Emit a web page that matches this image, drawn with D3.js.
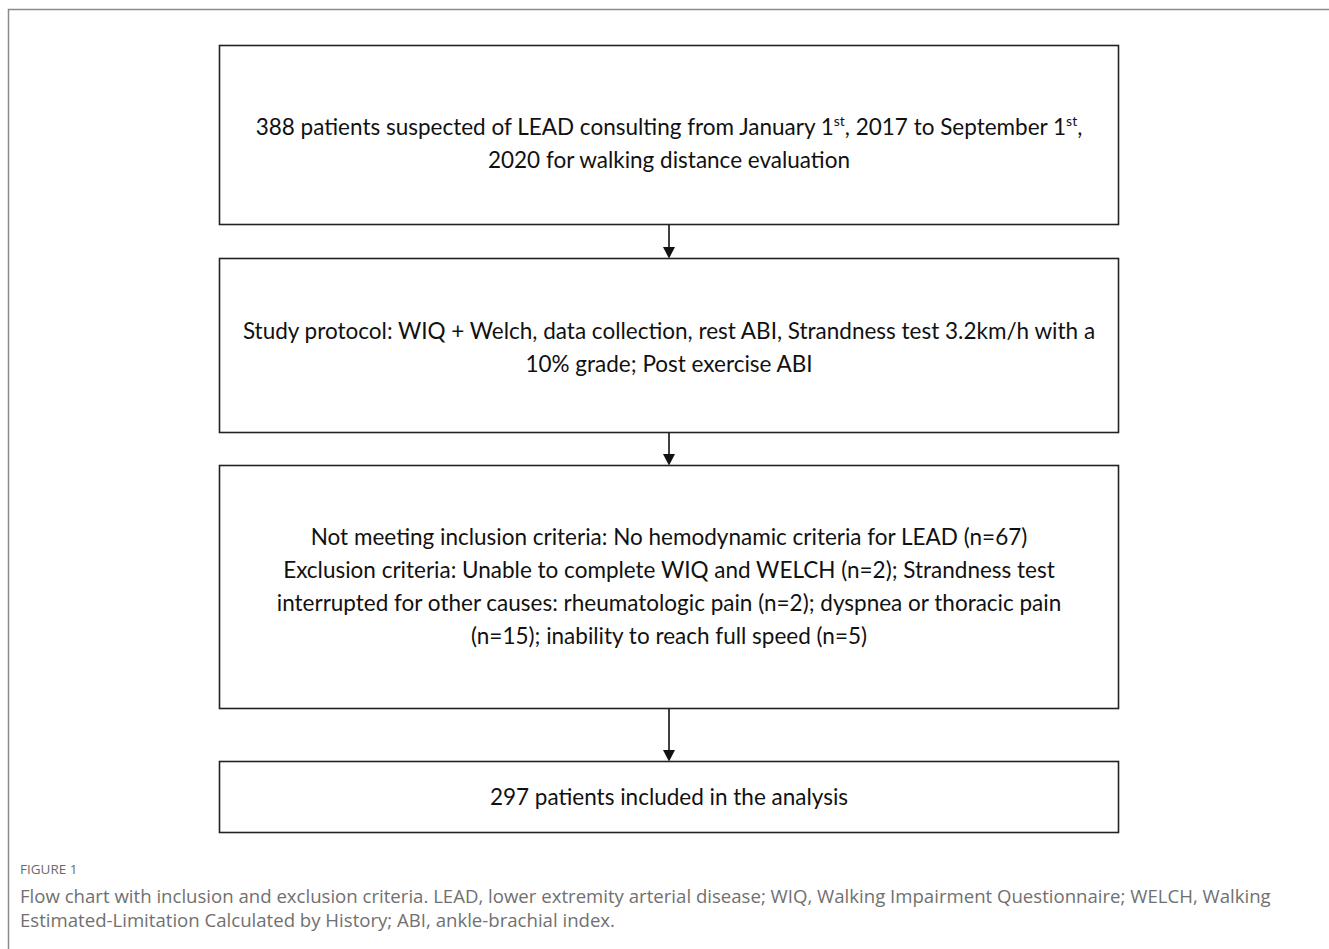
<!DOCTYPE html>
<html>
<head>
<meta charset="utf-8">
<script src="https://cdn.jsdelivr.net/npm/d3@7"></script>
<style>
  body { margin: 0; background: #fff; }
</style>
</head>
<body>
<script>
'use strict';

// flow chart steps: each step is a list of lines, each line a list of [text, isSuperscript]
const stepLines = [
    [
        [["388 patients suspected of LEAD consulting from January 1", false], ["st", true], [", 2017 to September 1", false], ["st", true], [",", false]],
        [["2020 for walking distance evaluation", false]]
    ],
    [
        [["Study protocol: WIQ + Welch, data collection, rest ABI, Strandness test 3.2km/h with a", false]],
        [["10% grade; Post exercise ABI", false]]
    ],
    [
        [["Not meeting inclusion criteria: No hemodynamic criteria for LEAD (n=67)", false]],
        [["Exclusion criteria: Unable to complete WIQ and WELCH (n=2); Strandness test", false]],
        [["interrupted for other causes: rheumatologic pain (n=2); dyspnea or thoracic pain", false]],
        [["(n=15); inability to reach full speed (n=5)", false]]
    ],
    [
        [["297 patients included in the analysis", false]]
    ]
];
const stepTop = [45, 258, 465, 761];
const stepBottom = [224, 432, 708, 832];

const figureLabel = "FIGURE 1";
const captionLines = [
    "Flow chart with inclusion and exclusion criteria. LEAD, lower extremity arterial disease; WIQ, Walking Impairment Questionnaire; WELCH, Walking",
    "Estimated-Limitation Calculated by History; ABI, ankle-brachial index."
];

const width = 1329, height = 949;
const boxLeft = 219, boxRight = 1118;
const cx = (boxLeft + boxRight) / 2 + 0.5;
const lineH = 33;
const textNudge = [9, 2, 0, 0]; // text sits a bit low in the first boxes

let svg = d3.select("body").append("svg")
    .attr("width", width)
    .attr("height", height)
    .style("display", "block");

// outer frame (left and top only)
svg.append("path")
    .attr("d", "M8.5," + height + " V9.5 H" + width)
    .attr("fill", "none")
    .attr("stroke", "#8a8a8a")
    .attr("stroke-width", 1.5);

let y = d3.scaleLinear().domain([0, height]).range([0, height]);

let steps = stepLines.map(function(lines, i) {
    return { lines: lines, top: stepTop[i], bottom: stepBottom[i], nudge: textNudge[i] };
});

let boxes = svg.append("g").selectAll("g")
    .data(steps)
    .enter().append("g");

boxes.append("rect")
    .attr("x", boxLeft + 0.5)
    .attr("y", function(d) { return y(d.top) + 0.5; })
    .attr("width", boxRight - boxLeft)
    .attr("height", function(d) { return y(d.bottom) - y(d.top); })
    .attr("fill", "#fff")
    .attr("stroke", "#222")
    .attr("stroke-width", 1.6);

boxes.each(function(d) {
    let mid = (y(d.top) + y(d.bottom)) / 2 + d.nudge;
    let n = d.lines.length;
    let t = d3.select(this).append("text")
        .attr("text-anchor", "middle")
        .style("font-family", "Lato, 'Open Sans', sans-serif")
        .style("font-size", "22.5px")
        .style("fill", "#111");
    d.lines.forEach(function(line, li) {
        let base = mid + (li - (n - 1) / 2) * lineH + 8;
        let ln = t.append("tspan").attr("x", cx).attr("y", base);
        let wasSup = false;
        line.forEach(function(part) {
            let sp = ln.append("tspan").text(part[0]);
            if (part[1]) {
                sp.attr("dy", -9).style("font-size", "14px");
            } else if (wasSup) {
                sp.attr("dy", 9);
            }
            wasSup = part[1];
        });
    });
});

// arrows between boxes
let arrows = svg.append("g").selectAll("g")
    .data(d3.pairs(steps))
    .enter().append("g");

arrows.append("line")
    .attr("x1", cx).attr("x2", cx)
    .attr("y1", function(d) { return y(d[0].bottom) + 1; })
    .attr("y2", function(d) { return y(d[1].top) - 8; })
    .attr("stroke", "#111")
    .attr("stroke-width", 1.6);

arrows.append("path")
    .attr("d", function(d) {
        let ty = y(d[1].top);
        return "M" + (cx - 6) + "," + (ty - 11) + " L" + (cx + 6) + "," + (ty - 11) + " L" + cx + "," + (ty + 0.5) + "Z";
    })
    .attr("fill", "#111");

// caption
svg.append("text")
    .attr("x", 20)
    .attr("y", 874)
    .text(figureLabel)
    .style("font-family", "'Open Sans', sans-serif")
    .style("font-size", "13.5px")
    .style("fill", "#6a6a6a");

svg.append("g").selectAll("text")
    .data(captionLines)
    .enter().append("text")
    .attr("x", 20)
    .attr("y", function(d, i) { return 903 + i * 24; })
    .text(function(d) { return d; })
    .style("font-family", "'Open Sans', sans-serif")
    .style("font-size", "18.6px")
    .style("fill", "#707070");
</script>
</body>
</html>
